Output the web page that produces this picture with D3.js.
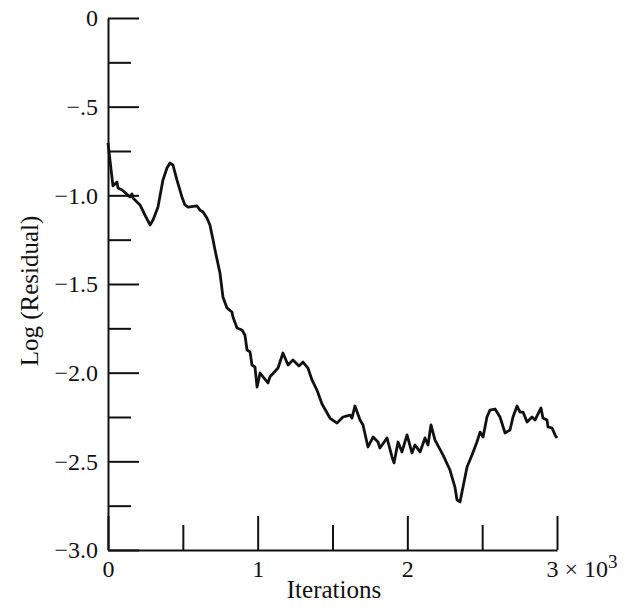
<!DOCTYPE html>
<html lang="en">
<head>
    <meta charset="UTF-8">
    <title>log residual</title>
    <script src="https://cdn.jsdelivr.net/npm/d3@7"></script>
    <style>
        body{
            margin: 0;
            background: white;
        }
        svg text{
            font-family: "Liberation Serif", "Times New Roman", serif;
            fill: #111;
        }
        .axis path, .axis line{
            stroke: #111;
            stroke-width: 2;
        }
    </style>
</head>
<body>
<svg id="chart" width="637" height="610"></svg>
<script>
    // iterations in units of 10^3
    let iterations = [0, 0.007, 0.033, 0.060, 0.067, 0.094, 0.147, 0.160, 0.167, 0.214, 0.247, 0.281, 0.301,
        0.334, 0.367, 0.394, 0.414, 0.434, 0.461, 0.494, 0.514, 0.535, 0.595, 0.615, 0.635, 0.661, 0.681,
        0.702, 0.715, 0.748, 0.768, 0.795, 0.828, 0.835, 0.862, 0.895, 0.915, 0.929, 0.949, 0.962, 0.982,
        0.996, 1.016, 1.036, 1.069, 1.082, 1.136, 1.169, 1.203, 1.236, 1.276, 1.303, 1.336, 1.363, 1.396,
        1.430, 1.483, 1.530, 1.570, 1.617, 1.630, 1.650, 1.684, 1.704, 1.737, 1.771, 1.804, 1.817, 1.864,
        1.898, 1.911, 1.938, 1.964, 1.998, 2.031, 2.051, 2.085, 2.118, 2.138, 2.158, 2.185, 2.238, 2.285,
        2.318, 2.332, 2.352, 2.372, 2.399, 2.432, 2.465, 2.486, 2.506, 2.532, 2.552, 2.586, 2.619, 2.653,
        2.686, 2.706, 2.733, 2.753, 2.773, 2.800, 2.833, 2.853, 2.893, 2.906, 2.933, 2.940, 2.967, 2.987, 3.0]
    let logResidual = [-0.705, -0.756, -0.947, -0.925, -0.959, -0.970, -1.009, -0.992, -1.015, -1.054, -1.111, -1.167, -1.139,
        -1.066, -0.914, -0.846, -0.818, -0.829, -0.914, -1.009, -1.054, -1.066, -1.060, -1.083, -1.094, -1.128, -1.167,
        -1.252, -1.308, -1.438, -1.573, -1.635, -1.658, -1.686, -1.748, -1.759, -1.788, -1.872, -1.883, -1.957, -1.968,
        -2.081, -2.002, -2.024, -2.058, -2.024, -1.974, -1.889, -1.957, -1.929, -1.962, -1.940, -1.974, -2.041, -2.098,
        -2.177, -2.256, -2.284, -2.250, -2.239, -2.256, -2.188, -2.267, -2.295, -2.419, -2.363, -2.391, -2.425, -2.368,
        -2.476, -2.509, -2.391, -2.447, -2.351, -2.453, -2.408, -2.447, -2.368, -2.408, -2.295, -2.380, -2.464, -2.549,
        -2.645, -2.718, -2.729, -2.645, -2.532, -2.464, -2.391, -2.335, -2.363, -2.250, -2.211, -2.205, -2.250, -2.340,
        -2.323, -2.250, -2.188, -2.222, -2.222, -2.278, -2.250, -2.267, -2.199, -2.256, -2.267, -2.306, -2.312, -2.351, -2.368]

    let yMajor = [0, -0.5, -1.0, -1.5, -2.0, -2.5, -3.0]
    let yLabels = ["0", "\u2212.5", "\u22121.0", "\u22121.5", "\u22122.0", "\u22122.5", "\u22123.0"]
    let yMinor = [-0.25, -0.75, -1.25, -1.75, -2.25, -2.75]
    let xMajor = [0, 1, 2, 3]
    let xLabels = ["0", "1", "2", "3"]
    let xMinor = [0.5, 1.5, 2.5]

    let margin = {top: 18, left: 108}
    let width = 449, height = 532

    let svg = d3.select("#chart")
    let g = svg.append("g").attr("transform", `translate(${margin.left},${margin.top})`)

    let x = d3.scaleLinear().domain([0, 3]).range([0, width])
    let y = d3.scaleLinear().domain([-3, 0]).range([height, 0])

    // y axis, ticks pointing into the plot
    g.append("g").attr("class", "axis")
        .call(d3.axisLeft(y).tickValues(yMajor).tickSize(-31).tickSizeOuter(0).tickPadding(10)
            .tickFormat((d, i) => yLabels[i]))
        .call(a => a.selectAll("text").style("font-size", "24px"))
    g.append("g").attr("class", "axis")
        .call(d3.axisLeft(y).tickValues(yMinor).tickSize(-23).tickFormat(""))
        .call(a => a.select(".domain").remove())

    // x axis, ticks pointing up
    let xg = g.append("g").attr("class", "axis").attr("transform", `translate(0,${height})`)
        .call(d3.axisBottom(x).tickValues(xMajor).tickSize(-34).tickSizeOuter(0).tickPadding(10)
            .tickFormat((d, i) => xLabels[i]))
    xg.selectAll("text").style("font-size", "24px")
    g.append("g").attr("class", "axis").attr("transform", `translate(0,${height})`)
        .call(d3.axisBottom(x).tickValues(xMinor).tickSize(-25).tickFormat(""))
        .call(a => a.select(".domain").remove())

    // the last label reads 3 x 10^3
    let last = xg.selectAll(".tick").filter(d => d === 3).select("text")
    last.text(null).attr("text-anchor", "start").attr("x", -11)
    last.append("tspan").text("3 \u00d7 10")
    last.append("tspan").text("3").attr("dy", "-0.45em").style("font-size", "19px")

    // residual curve
    let line = d3.line()
        .x((d, i) => x(iterations[i]))
        .y(d => y(d))
    g.append("path")
        .datum(logResidual)
        .attr("d", line)
        .attr("fill", "none")
        .attr("stroke", "#111")
        .attr("stroke-width", 2.8)
        .attr("stroke-linejoin", "round")

    // titles
    svg.append("text")
        .attr("x", 334).attr("y", 598)
        .attr("text-anchor", "middle")
        .style("font-size", "25px")
        .text("Iterations")
    svg.append("text")
        .attr("transform", "translate(38,291) rotate(-90)")
        .attr("text-anchor", "middle")
        .style("font-size", "25px")
        .text("Log (Residual)")
</script>
</body>
</html>
